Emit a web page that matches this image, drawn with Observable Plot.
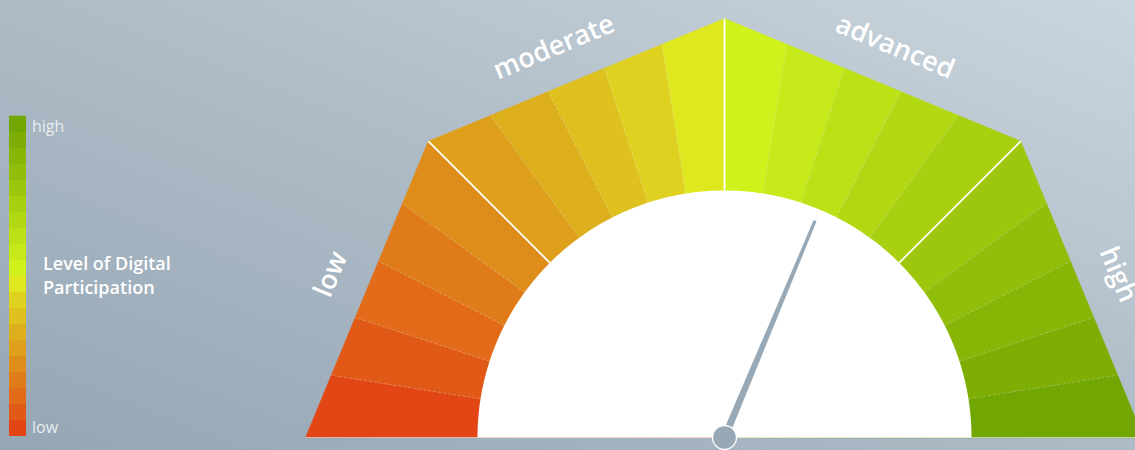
<!DOCTYPE html>
<html><head><meta charset="utf-8">
<script src="https://cdn.jsdelivr.net/npm/d3@7"></script>
<script src="https://cdn.jsdelivr.net/npm/@observablehq/plot@0.6"></script>
<style>
html,body{margin:0;padding:0;}
body{width:1135px;height:450px;overflow:hidden;position:relative;
  background:linear-gradient(to top right,#95a6b4 0%,#adbbc6 50%,#cbd5dd 100%);
  font-family:"Open Sans",sans-serif;}
#chart{position:absolute;left:0;top:0;}
#legend{position:absolute;left:9px;top:115px;}
.tick{position:absolute;left:32px;color:#e9edf0;font-size:16px;line-height:16px;white-space:nowrap;}
.title{position:absolute;left:43px;top:251px;color:#ffffff;font-size:18px;line-height:24px;font-weight:600;white-space:nowrap;}
</style></head><body>
<div id="chart"></div>
<div id="legend"></div>
<div class="tick" id="tHigh" style="top:118px"></div>
<div class="tick" id="tLow" style="top:419px"></div>
<div class="title" id="ltitle"></div>
<script>
// ---- data ----
const bands = ["low", "moderate", "advanced", "high"];
const segmentColors = [
  "#e24615", "#e15916", "#e16b18", "#e07b19", "#df8d1a",
  "#dea01b", "#ddaf1c", "#dec01e", "#dfd11f", "#dfe71f",
  "#d1f11c", "#c6e919", "#bde117", "#b2d814", "#a8cf10",
  "#9dc70d", "#91be0a", "#88b607", "#7eae04", "#72a602"
];
const needleValue = 62.6;            // position on a 0–100 scale
const legendTitle = ["Level of Digital", "Participation"];
const legendTicks = ["low", "high"];

// ---- geometry (styles) ----
const W = 1135, H = 450, CX = 724, CY = 437, RPX = 419;
const innerR = 247 / RPX;
const deg = Math.PI / 180;
const nSeg = segmentColors.length;
const step = 180 / nSeg;
const perBand = nSeg / bands.length;
const bandSpan = 180 / bands.length;
const apothem = Math.cos(bandSpan / 2 * deg);
const labelAngleOffset = [0, 1.1, -1.1, 0];

function outerR(a, q) {
  const mid = 180 - bandSpan * q - bandSpan / 2;
  return apothem / Math.cos((a - mid) * deg);
}
const pol = (r, a) => ({x: r * Math.cos(a * deg), y: r * Math.sin(a * deg)});

// wedges
const wedgePts = [];
segmentColors.forEach((c, i) => {
  const q = Math.floor(i / perBand);
  const a0 = 180 - i * step, a1 = 180 - (i + 1) * step;
  wedgePts.push({id: i, c, x: 0, y: 0});
  wedgePts.push({id: i, c, ...pol(outerR(a0, q), a0)});
  wedgePts.push({id: i, c, ...pol(outerR(a1, q), a1)});
});

// separators
const minorSep = [], majorSep = [];
for (let k = 1; k < nSeg; k++) {
  const a = 180 - k * step;
  const q = Math.floor(k / perBand);
  const p1 = pol(innerR, a), p2 = pol(outerR(a, Math.min(q, bands.length - 1)), a);
  const s = {x1: p1.x, y1: p1.y, x2: p2.x, y2: p2.y};
  if (k % perBand === 0) majorSep.push(s); else minorSep.push(s);
}

// inner white half disc
const disc = d3.range(0, 181, 1).map(a => pol(innerR, a));

// needle
const t = 180 - needleValue / 100 * 180;
const L = 235 / RPX, hb = 3.6 / RPX, ht = 1.6 / RPX;
const ux = Math.cos(t * deg), uy = Math.sin(t * deg), px = -uy, py = ux;
const needle = [
  {x: hb * px, y: hb * py},
  {x: L * ux + ht * px, y: L * uy + ht * py},
  {x: L * ux - ht * px, y: L * uy - ht * py},
  {x: -hb * px, y: -hb * py}
];

// labels
const labelR = 426 / RPX;
const labels = bands.map((b, i) => {
  const a = 180 - bandSpan * i - bandSpan / 2 + labelAngleOffset[i];
  return {text: b, ...pol(labelR, a), rot: -(90 - bandSpan / 2) + bandSpan * i};
});

const needleColor = "#97a9b6";

const chart = Plot.plot({
  width: W, height: H, margin: 0,
  style: {background: "transparent", fontFamily: "Open Sans"},
  x: {domain: [-CX / RPX, (W - CX) / RPX], axis: null},
  y: {domain: [-(H - CY) / RPX, CY / RPX], axis: null},
  color: {type: "identity"},
  marks: [
    Plot.line(wedgePts, {x: "x", y: "y", z: "id", fill: "c", stroke: "c", strokeWidth: 0.5, curve: "linear-closed"}),
    Plot.link(minorSep, {x1: "x1", y1: "y1", x2: "x2", y2: "y2", stroke: "white", strokeOpacity: 0.35, strokeWidth: 0.7, strokeDasharray: "3,2"}),
    Plot.line(disc, {x: "x", y: "y", fill: "white", stroke: "none", curve: "linear-closed"}),
    Plot.link(majorSep, {x1: "x1", y1: "y1", x2: "x2", y2: "y2", stroke: "white", strokeWidth: 1.8}),
    Plot.ruleY([0], {x1: -1, x2: 1, stroke: "white", strokeOpacity: 0.5, strokeWidth: 1}),
    Plot.line(needle, {x: "x", y: "y", fill: needleColor, stroke: "none", curve: "linear-closed"}),
    Plot.dot([{x: 0, y: 0}], {x: "x", y: "y", r: 12, fill: needleColor, stroke: "white", strokeWidth: 1.3}),
    Plot.text(labels, {x: "x", y: "y", text: "text", rotate: "rot", fill: "white", fontSize: 27, fontWeight: 600, textAnchor: "middle", lineAnchor: "middle"})
  ]
});
document.getElementById("chart").appendChild(chart);

const legend = Plot.plot({
  width: 17, height: 321, margin: 0,
  style: {background: "transparent"},
  x: {axis: null},
  y: {axis: null, padding: 0, reverse: true},
  color: {type: "identity"},
  marks: [
    Plot.cell(segmentColors.map((c, i) => ({i, c})), {y: "i", fill: "c", stroke: "c", strokeWidth: 0.5})
  ]
});
document.getElementById("legend").appendChild(legend);
document.getElementById("tLow").textContent = legendTicks[0];
document.getElementById("tHigh").textContent = legendTicks[1];
document.getElementById("ltitle").innerHTML = legendTitle.join("<br>");
</script>
</body></html>
